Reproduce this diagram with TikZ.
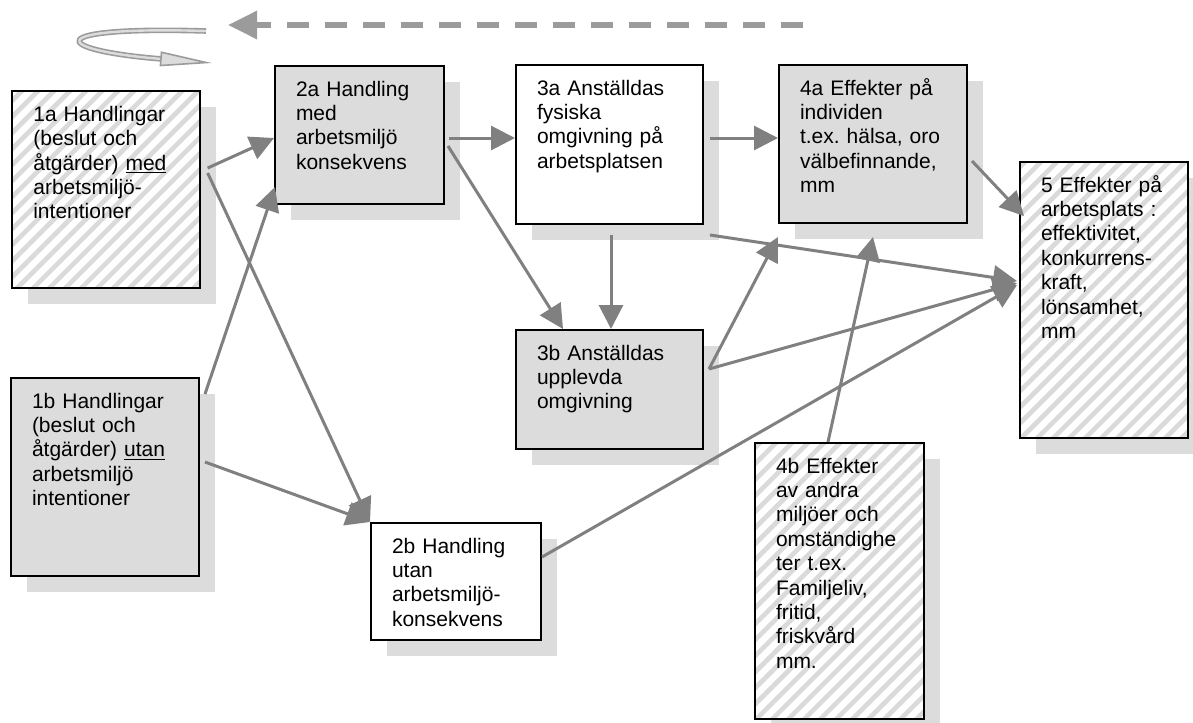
\documentclass[tikz,border=0pt]{standalone}
\usepackage{fontspec}
\setmainfont{Liberation Sans}
\usetikzlibrary{arrows.meta,shadows,patterns.meta,calc}
\definecolor{boxgray}{RGB}{220,220,220}
\definecolor{linegray}{RGB}{128,128,128}
\definecolor{dashgray}{RGB}{155,155,155}
\definecolor{stripegray}{RGB}{218,218,218}
\tikzset{
  blk/.style={draw, line width=1.5pt, anchor=north west, align=left,
    inner xsep=15.75pt, inner ysep=11.25pt, text height=11.25pt,
    font=\fontsize{15.75pt}{18.3pt}\selectfont,
    drop shadow={shadow xshift=12pt, shadow yshift=-12pt, fill=boxgray, opacity=1}},
  graybox/.style={blk, fill=boxgray},
  whitebox/.style={blk, fill=white},
  hatchbox/.style={blk, preaction={fill=white},
    pattern={Lines[angle=45, distance=8.5pt, line width=3.5pt]}, pattern color=stripegray},
  link/.style={line width=2.25pt, linegray, -{Triangle[length=18pt, width=18pt]}}
}
\frenchspacing
\begin{document}
\begin{tikzpicture}[x=0.75pt, y=-0.75pt]
\useasboundingbox (0,0) rectangle (1193,722);
% feedback arrows at the top
\coordinate (fbS) at (803,25);
\coordinate (fbE) at (228,25);
\draw [line width=4.5pt, dashgray, dash pattern=on 16.5pt off 12pt,
  -{Triangle[length=21.75pt, width=20.25pt]}] (fbS) -- (fbE);
\coordinate (lpS) at (206,31);
\coordinate (lpE) at (212,63);
\draw [line width=1.2pt, dashgray, double=boxgray, double distance=1.8pt,
  -{Triangle[length=39pt, width=11pt, fill=boxgray]}] (lpS) .. controls (40,26) and (50,50) .. (lpE);
% boxes
\node [hatchbox, text width=109.5pt, text depth=114pt] (b1a) at (10,89)
  {1a Handlingar\\(beslut och\\åtgärder) \underline{med}\\arbetsmiljö-\\intentioner};
\node [graybox, text width=109.5pt, text depth=114.75pt] (b1b) at (10,377)
  {1b Handlingar\\(beslut och\\åtgärder) \underline{utan}\\arbetsmiljö\\intentioner};
\node [graybox, text width=95.25pt, text depth=69.75pt] (b2a) at (274,65)
  {2a Handling\\med\\arbetsmiljö\\konsekvens};
\node [whitebox, text width=96pt, text depth=54pt] (b2b) at (370,522)
  {2b Handling\\utan\\arbetsmiljö-\\konsekvens};
\node [whitebox, text width=108.75pt, text depth=85.5pt] (b3a) at (515,64)
  {3a Anställdas\\fysiska\\omgivning på\\arbetsplatsen};
\node [graybox, text width=108.75pt, text depth=55.5pt] (b3b) at (515,329)
  {3b Anställdas\\upplevda\\omgivning};
\node [graybox, text width=109.5pt, text depth=84.75pt] (b4a) at (778,64)
  {4a Effekter på\\individen\\t.ex. hälsa, oro\\välbefinnande,\\mm};
\node [hatchbox, text width=95.25pt, text depth=173.25pt] (b4b) at (754,442)
  {4b Effekter\\av andra\\miljöer och\\omständighe\\ter t.ex.\\Familjeliv,\\fritid,\\friskvård\\mm.};
\node [hatchbox, text width=94.5pt, text depth=173.25pt] (b5) at (1019,161)
  {5 Effekter på\\arbetsplats :\\effektivitet,\\konkurrens-\\kraft,\\lönsamhet,\\mm};
% arrows
\draw [link] ($(b1a.north east)+(5,79)$) -- ($(b2a.north west)+(0,73)$);
\draw [link] ($(b1a.north east)+(5,84)$) -- (b2b.north west);
\draw [link] ($(b1b.north east)+(5,17)$) -- ($(b2a.south west)+(1,-18)$);
\draw [link] ($(b1b.north east)+(5,85)$) -- (b2b.north west);
\draw [link] ($(b2a.north east)+(4,73)$) -- ($(b3a.north west)+(0,74)$);
\draw [link] ($(b2a.north east)+(3,81)$) -- ($(b3b.north west)+(48,0)$);
\draw [link] ($(b3a.south west)+(96,10)$) -- ($(b3b.north west)+(96,0)$);
\draw [link] ($(b3a.north east)+(6,74)$) -- ($(b4a.north west)+(0,74)$);
\draw [link] ($(b3a.south east)+(6,10)$) -- ($(b5.north west)+(-2,120)$);
\draw [link] ($(b3b.north east)+(5,40)$) -- ($(b4a.south west)+(0,13)$);
\draw [link] ($(b3b.north east)+(5,40)$) -- ($(b5.north west)+(-2,122)$);
\draw [link] ($(b4b.north west)+(74,0)$) -- ($(b4a.south west)+(95,13)$);
\draw [link] ($(b2b.north east)+(0,35)$) -- ($(b5.north west)+(-2,124)$);
\draw [link] ($(b4a.north east)+(4,97)$) -- ($(b5.north west)+(5,55)$);
\end{tikzpicture}
\end{document}
